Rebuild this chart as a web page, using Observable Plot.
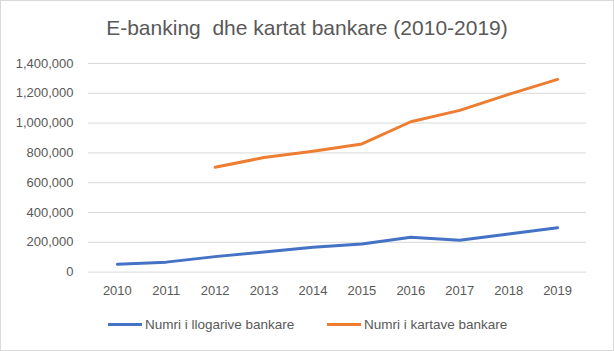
<!DOCTYPE html>
<html>
<head>
<meta charset="utf-8">
<script src="https://cdn.jsdelivr.net/npm/d3@7"></script>
<script src="https://cdn.jsdelivr.net/npm/@observablehq/plot@0.6"></script>
<style>
  html, body { margin: 0; padding: 0; background: #fff; }
  #wrap { position: relative; width: 614px; height: 351px; box-sizing: border-box; border: 1px solid #d9d9d9; background: #fff; font-family: "Liberation Sans", Arial, sans-serif; color: #595959; overflow: hidden; }
  #title { position: absolute; left: 0; width: 612px; top: 15px; text-align: center; font-size: 21px; color: #595959; white-space: nowrap; }
  #chart { position: absolute; left: -1px; top: 43px; }
  .leg { position: absolute; top: 316px; font-size: 13.5px; color: #595959; white-space: nowrap; display: flex; align-items: center; }
  .leg .sw { display: inline-block; width: 34px; height: 3px; margin-right: 3px; }
</style>
</head>
<body>
<div id="wrap">
  <div id="title">E-banking&nbsp; dhe kartat bankare (2010-2019)</div>
  <div id="chart"></div>
  <div class="leg" style="left:107px"><span class="sw" style="background:#4472C4"></span><span>Numri i llogarive bankare</span></div>
  <div class="leg" style="left:326px"><span class="sw" style="background:#ED7D31"></span><span>Numri i kartave bankare</span></div>
</div>
<script>
const years = ["2010","2011","2012","2013","2014","2015","2016","2017","2018","2019"];
const llogari = [53000, 67000, 104000, 135000, 167000, 189000, 234000, 214000, 256000, 298000];
const karta = [null, null, 704000, 769000, 811000, 860000, 1009000, 1085000, 1193000, 1293000];
const yTicks = [0, 200000, 400000, 600000, 800000, 1000000, 1200000, 1400000];
const seriesNames = ["Numri i llogarive bankare", "Numri i kartave bankare"];
const colors = ["#4472C4", "#ED7D31"];

const data = [];
years.forEach((y, i) => {
  data.push({year: y, value: llogari[i], series: seriesNames[0]});
  if (karta[i] != null) data.push({year: y, value: karta[i], series: seriesNames[1]});
});

const chart = Plot.plot({
  width: 614,
  height: 264,
  marginLeft: 88,
  marginRight: 27,
  marginTop: 19,
  marginBottom: 36,
  style: {fontFamily: "Liberation Sans, Arial, sans-serif", fontSize: "13px", color: "#595959", background: "transparent"},
  x: {type: "point", domain: years, padding: 0.5, align: 0.5, label: null, tickSize: 0, tickPadding: 14},
  y: {domain: [0, 1400000], ticks: yTicks, tickFormat: d3.format(","), label: null, tickSize: 0, tickPadding: 15},
  color: {domain: seriesNames, range: colors},
  marks: [
    Plot.ruleY(yTicks, {stroke: "#d9d9d9", strokeWidth: 1}),
    Plot.axisY({ticks: yTicks, tickFormat: d3.format(","), tickSize: 0, tickPadding: 15, label: null, fill: "#595959"}),
    Plot.axisX({tickSize: 0, tickPadding: 14, label: null, fill: "#595959"}),
    Plot.line(data, {x: "year", y: "value", z: "series", stroke: "series", strokeWidth: 3, strokeLinecap: "round", strokeLinejoin: "round"})
  ]
});
document.getElementById("chart").appendChild(chart);
</script>
</body>
</html>
